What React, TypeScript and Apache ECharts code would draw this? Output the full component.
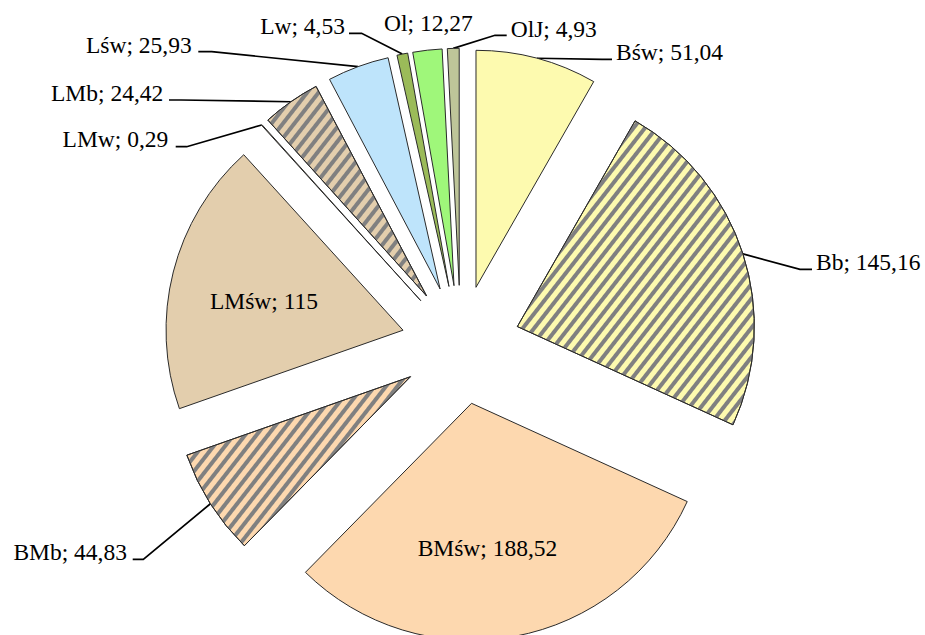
import React, { useEffect, useRef } from 'react';
import * as echarts from 'echarts';

// ---- data ----
const categories = ['Bśw', 'Bb', 'BMśw', 'BMb', 'LMśw', 'LMw', 'LMb', 'Lśw', 'Lw', 'Ol', 'OlJ'];
const values = [51.04, 145.16, 188.52, 44.83, 115, 0.29, 24.42, 25.93, 4.53, 12.27, 4.93];

// ---- styles ----
const fillColors = ['#FDFAAF', '#FDFAAF', '#FDD8AF', '#FDD8AF', '#E3CEAD', '#E3CEAD', '#E3CEAD', '#BEE4FB', '#9BBB59', '#9FF77A', '#BEC599'];
const striped = [false, true, false, true, false, false, true, false, false, false, false];

// ---- layout ----
const PIE_CENTER = [460.7, 344.8];
const RADIUS = 237;
const EXPLODE = 59.5;
const FONT = "'Liberation Serif', 'Times New Roman', serif";
const FONT_SIZE = 23.5;

type LabelPos = {
  x: number;
  y: number;
  align: 'left' | 'right' | 'center';
  inside?: boolean;
  elbow?: [number, number];
  end?: [number, number];
};

const LABEL_LAYOUT: LabelPos[] = [
  { x: 616, y: 52, align: 'left', elbow: [602, 59.3], end: [612, 59.3] },
  { x: 816, y: 262, align: 'left', elbow: [800, 269.3], end: [812, 269.3] },
  { x: 487.5, y: 548.3, align: 'center', inside: true },
  { x: 127, y: 552, align: 'right', elbow: [143.3, 559.3], end: [132.7, 559.3] },
  { x: 264, y: 300.8, align: 'center', inside: true },
  { x: 168.3, y: 139, align: 'right', elbow: [186.7, 146.7], end: [175.7, 146.7] },
  { x: 163.3, y: 92.5, align: 'right', elbow: [181, 100], end: [169, 100] },
  { x: 191.7, y: 44.5, align: 'right', elbow: [211.7, 51.7], end: [198.3, 51.7] },
  { x: 345, y: 25.8, align: 'right', elbow: [361.6, 33.3], end: [349, 33.3] },
  { x: 428.4, y: 22.5, align: 'center' },
  { x: 510.7, y: 28.8, align: 'left', elbow: [495, 35.3], end: [506.7, 35.3] },
];

const stripeDecal = {
  symbol: 'rect',
  symbolSize: 1,
  dashArrayX: [1, 0],
  dashArrayY: [3.5, 5],
  rotation: (-52 * Math.PI) / 180,
  color: '#808080',
};

function fmt(v: number) {
  return String(v).replace('.', ',');
}

function buildOption() {
  const total = values.reduce((a, b) => a + b, 0);
  let cum = 0;
  const series = values.map((v, i) => {
    const startDeg = (cum / total) * 360;
    const midDeg = ((cum + v / 2) / total) * 360;
    cum += v;
    const rad = (midDeg * Math.PI) / 180;
    const c = [PIE_CENTER[0] + EXPLODE * Math.sin(rad), PIE_CENTER[1] - EXPLODE * Math.cos(rad)];
    const arcPt = [c[0] + RADIUS * Math.sin(rad), c[1] - RADIUS * Math.cos(rad)];
    const lab = LABEL_LAYOUT[i];
    const hasLeader = !!(lab.elbow && lab.end);
    return {
      type: 'pie',
      center: c,
      radius: [0, RADIUS],
      startAngle: 90 - startDeg,
      clockwise: true,
      minAngle: 0,
      avoidLabelOverlap: false,
      silent: true,
      emphasis: { disabled: true },
      labelLayout: (p: any) => {
        if (p.dataIndex !== 0) return {};
        const out: any = { x: lab.x, y: lab.y, align: lab.align, verticalAlign: 'middle' };
        if (hasLeader) {
          const start = p.labelLinePoints && p.labelLinePoints[0] ? p.labelLinePoints[0] : arcPt;
          out.labelLinePoints = [start, lab.elbow, lab.end];
        }
        return out;
      },
      data: [
        {
          name: categories[i],
          value: v,
          itemStyle: {
            color: fillColors[i],
            borderColor: '#2a2a2a',
            borderWidth: 1,
            decal: striped[i] ? stripeDecal : undefined,
          },
          label: {
            show: true,
            position: lab.inside ? 'inside' : 'outside',
            formatter: () => `${categories[i]}; ${fmt(v)}`,
            color: '#000',
            fontFamily: FONT,
            fontSize: FONT_SIZE,
          },
          labelLine: {
            show: hasLeader,
            lineStyle: { color: '#000', width: 1.7 },
          },
        },
        {
          name: '',
          value: total - v,
          itemStyle: { color: 'rgba(0,0,0,0)', borderWidth: 0 },
          label: { show: false },
          labelLine: { show: false },
        },
      ],
    };
  });
  return {
    animation: false,
    backgroundColor: '#ffffff',
    series,
  };
}

export default function App() {
  const ref = useRef<HTMLDivElement>(null);
  useEffect(() => {
    if (!ref.current) return;
    const chart = echarts.init(ref.current, null, { renderer: 'svg' });
    chart.setOption(buildOption() as any);
    return () => chart.dispose();
  }, []);
  return (
    <div
      ref={ref}
      style={{ position: 'absolute', left: 0, top: 0, width: 925, height: 635 }}
    />
  );
}
